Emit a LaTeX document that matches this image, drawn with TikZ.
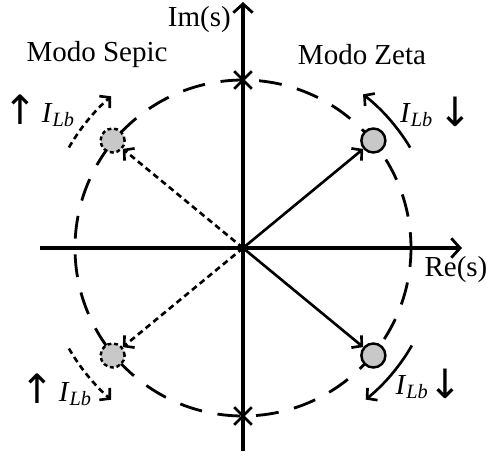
\documentclass[tikz,border=0pt]{standalone}
\usepackage{fontspec}
\setmainfont{Liberation Serif}
\newfontfamily\flechas{DejaVu Sans}
\usepackage{tikz}
\usetikzlibrary{arrows.meta,calc,positioning,shapes.misc,patterns}
\definecolor{pologris}{RGB}{200,200,200}
\newcommand{\flarriba}{{\flechas\fontsize{23}{23}\selectfont\raisebox{-1.5pt}{↑}}}
\newcommand{\flabajo}{{\flechas\fontsize{23}{23}\selectfont\raisebox{-2.5pt}{↓}}}
\newcommand{\ilb}{\textit{I}\textsubscript{\textit{Lb}}}

\begin{document}
\begin{tikzpicture}[
  eje/.style={line width=1.8pt, -{Straight Barb[length=5pt,width=11pt,line width=1.6pt]}},
  vec/.style={line width=1.5pt, -{Straight Barb[length=4pt,width=9pt,line width=1.5pt]}},
  vecpunt/.style={vec, dash pattern=on 3.4pt off 2.3pt},
  polo/.style={circle, draw, line width=1.4pt, fill=pologris, minimum size=0.48cm, inner sep=0pt},
  polopunt/.style={polo, dash pattern=on 2.2pt off 1.6pt},
  cero/.style={cross out, draw, line width=1.5pt, minimum size=0.3cm, inner sep=0pt},
  etiq/.style={font=\fontsize{16.5}{19}\selectfont}
]
\useasboundingbox (-4.86,-4.06) rectangle (4.86,4.96);
\coordinate (o) at (0,0);
% ejes
\coordinate (reA) at (-4.06,0);
\coordinate (reB) at (4.38,0);
\coordinate (imA) at (0,-4.06);
\coordinate (imB) at (0,4.92);
\draw[eje] (reA) -- (reB);
\draw[eje] (imA) -- (imB);
\node[etiq, anchor=east] (im) at (-0.12,4.56) {Im(s)};
\node[etiq] (re) at (4.26,-0.44) {Re(s)};
% circulo
\draw[line width=1.6pt, dash pattern=on 13pt off 9pt, dash phase=4pt] (o) circle (3.36);
\node[cero] (cz1) at (0,3.36) {};
\node[cero] (cz2) at (0,-3.36) {};
% polos
\node[polo] (p1) at (39.5:3.38) {};
\node[polo] (p2) at (-39.5:3.38) {};
\node[polopunt] (p3) at (140.5:3.38) {};
\node[polopunt] (p4) at (-140.5:3.38) {};
\draw[vec] (o) -- (p1);
\draw[vec] (o) -- (p2);
\draw[vecpunt] (o) -- (p3);
\draw[vecpunt] (o) -- (p4);
% desplazamiento de polos
\draw[vec] (31:3.9) arc (31:52:3.9);
\draw[vec] (-30:3.9) arc (-30:-51:3.9);
\draw[vecpunt] (150:4.02) arc (150:131:4.02);
\draw[vecpunt] (-150:4.02) arc (-150:-131:4.02);
% textos
\node[etiq] (sepic) at (-2.92,3.86) {Modo Sepic};
\node[etiq] (zeta) at (2.38,3.86) {Modo Zeta};
\node[etiq] (i1) at (3.86,2.72) {\ilb\,\flabajo};
\node[etiq] (i2) at (3.72,-2.72) {\ilb\flabajo};
\node[etiq] (i3) at (-4.08,2.74) {\flarriba\,\ilb};
\node[etiq] (i4) at (-3.74,-2.84) {\flarriba\,\ilb};
\end{tikzpicture}
\end{document}
